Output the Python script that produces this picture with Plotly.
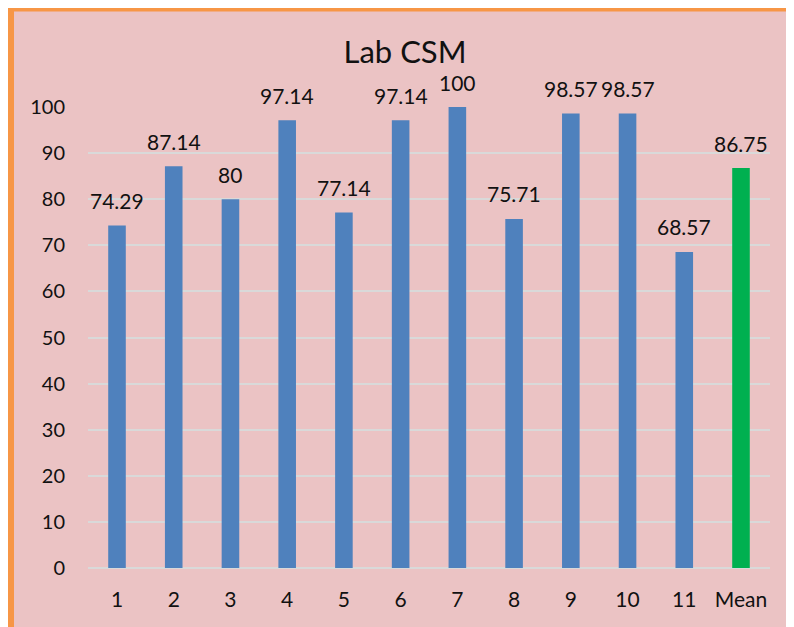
import plotly.graph_objects as go

categories = ["1", "2", "3", "4", "5", "6", "7", "8", "9", "10", "11", "Mean"]
values = [74.29, 87.14, 80, 97.14, 77.14, 97.14, 100, 75.71, 98.57, 98.57, 68.57, 86.75]
bar_colors = ["#4f81bd"] * 11 + ["#00b050"]
labels = [f"{v:g}" for v in values]

FONT = "Lato"
TXT = "#111111"

fig = go.Figure()
fig.add_trace(go.Bar(x=categories, y=values, marker=dict(color=bar_colors, line=dict(width=0)),
                     hoverinfo="skip"))

# category axis: annotate by category index so "1".."11" are not read as numbers
for i, (v, t) in enumerate(zip(values, labels)):
    fig.add_annotation(x=i, y=v, text=t, showarrow=False, yanchor="middle", yshift=25,
                       font=dict(family=FONT, size=21, color=TXT))

# figure is drawn with an 8px page offset; plot area 682 x 461
W, H, L, T = 682, 461, 80, 99
def fx(px): return (px - L) / W
def fy(py): return (T + H - py) / H

shapes = [
    dict(type="rect", xref="paper", yref="paper", x0=fx(0), x1=1.2, y0=fy(3.5), y1=fy(0),
         fillcolor="#f79646", line=dict(width=0), layer="below"),
    dict(type="rect", xref="paper", yref="paper", x0=fx(0), x1=fx(6), y0=-0.3, y1=fy(0),
         fillcolor="#f79646", line=dict(width=0), layer="below"),
]

fig.update_layout(
    width=794, height=627,
    margin=dict(l=L, r=794 - L - W, t=T, b=627 - T - H),
    paper_bgcolor="#ebc3c4", plot_bgcolor="rgba(0,0,0,0)",
    shapes=shapes,
    bargap=0.69,
    showlegend=False,
    title=dict(text="Lab CSM", x=397/794, xanchor="center", y=1 - 44/627, yanchor="middle",
               yref="container", font=dict(family=FONT, size=31, color=TXT)),
    font=dict(family=FONT, size=20, color=TXT),
    xaxis=dict(type="category", showgrid=False, showline=False, ticks="", ticklabelstandoff=17,
               tickfont=dict(family=FONT, size=21, color=TXT)),
    yaxis=dict(range=[0, 100], dtick=10, showgrid=True, gridcolor="#d9d9d9", gridwidth=2,
               zeroline=True, zerolinecolor="#d9d9d9", zerolinewidth=2, showline=False,
               ticks="", ticklabelstandoff=22, tickfont=dict(family=FONT, size=20, color=TXT)),
)

fig.write_html("out.html")
